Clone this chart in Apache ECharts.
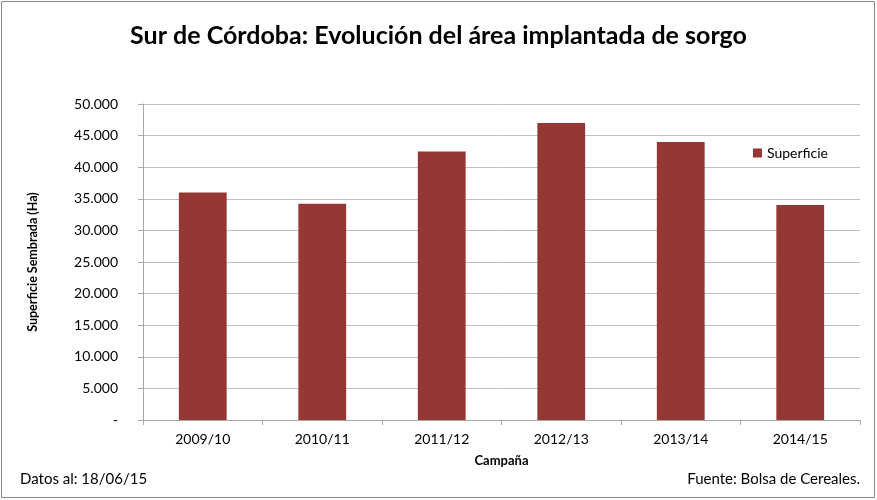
<!DOCTYPE html>
<html><head><meta charset="utf-8">
<script src="https://cdn.jsdelivr.net/npm/echarts@6/dist/echarts.min.js"></script>
<style>html,body{margin:0;padding:0;background:#fff}#c{width:877px;height:500px}</style>
</head><body><div id="c"></div>
<script>
const categories = ['2009/10','2010/11','2011/12','2012/13','2013/14','2014/15'];
const superficie = [36000, 34200, 42500, 47000, 44000, 34000];
const yTickLabels = {0:'-',5000:'5.000',10000:'10.000',15000:'15.000',20000:'20.000',25000:'25.000',30000:'30.000',35000:'35.000',40000:'40.000',45000:'45.000',50000:'50.000'};
const FONT = 'Lato';
const chart = echarts.init(document.getElementById('c'), null, {renderer:'canvas'});
chart.setOption({
  backgroundColor:'#fff',
  animation:false,
  textStyle:{fontFamily:FONT},
  title:{text:'Sur de Córdoba: Evolución del área implantada de sorgo', left:'center', top:18,
    textStyle:{fontFamily:FONT, fontSize:25, fontWeight:'bold', color:'#000'}},
  grid:{left:143, right:17, top:104, bottom:80},
  legend:{data:['Superficie'], right:44, top:141, itemWidth:9, itemHeight:9, icon:'rect', itemGap:4,
    textStyle:{fontFamily:FONT, fontSize:14, color:'#000'}},
  xAxis:{type:'category', data:categories, name:'Campaña', nameLocation:'middle', nameGap:34,
    nameTextStyle:{fontFamily:FONT, fontSize:13, fontWeight:'bold', color:'#000'},
    axisLine:{lineStyle:{color:'#a6a6a6'}}, axisTick:{show:true, length:5, lineStyle:{color:'#a6a6a6'}},
    axisLabel:{fontFamily:FONT, fontSize:14, color:'#000', margin:12}},
  yAxis:{type:'value', min:0, max:50000, interval:5000, name:'Superficie Sembrada (Ha)', nameLocation:'middle', nameGap:104,
    nameTextStyle:{fontFamily:FONT, fontSize:12.5, fontWeight:'bold', color:'#000'},
    axisLine:{show:true, lineStyle:{color:'#a6a6a6'}}, axisTick:{show:true, length:5, inside:false, lineStyle:{color:'#a6a6a6'}},
    axisLabel:{fontFamily:FONT, fontSize:14, color:'#000', margin:25, formatter:v=>yTickLabels[v] ?? String(v)},
    splitLine:{lineStyle:{color:'#bfbfbf'}}},
  series:[{name:'Superficie', type:'bar', data:superficie, barWidth:'40%', itemStyle:{color:'#953735'}}],
  graphic:[
    {type:'rect', shape:{x:1.5, y:1.5, width:873, height:496}, style:{fill:'none', stroke:'#888', lineWidth:1}, z:-1},
    {type:'text', left:20, top:472, style:{text:'Datos al: 18/06/15', font:'15px '+FONT, fill:'#000'}},
    {type:'text', right:17, top:472, style:{text:'Fuente: Bolsa de Cereales.', font:'15px '+FONT, fill:'#000'}}
  ]
});
</script></body></html>
